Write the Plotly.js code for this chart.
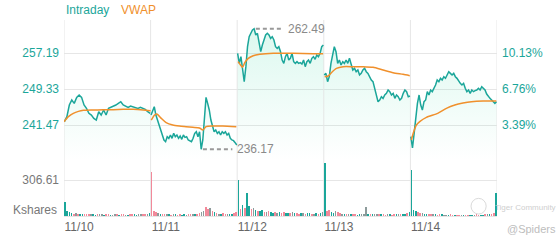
<!DOCTYPE html>
<html>
<head>
<meta charset="utf-8">
<script src="https://cdn.plot.ly/plotly-3.0.1.min.js"></script>
<style>
html,body{margin:0;padding:0;background:#fff;}
#chart{width:560px;height:240px;}
</style>
</head>
<body>
<div id="chart"></div>
<script>
// ---------- DATA ----------
const dayLabels = ['11/10','11/11','11/12','11/13','11/14'];

const p1110 = [242.20,243.29,245.84,246.93,246.20,247.51,248.02,247.51,245.84,245.11,244.02,243.65,242.93,242.56,244.38,243.65,244.75,243.65,245.11,245.33,245.47,245.84,246.20,246.56,245.84,245.62,245.33,245.62,245.47,245.33,245.11,245.33,245.11,244.89,244.38,244.02];
const p1111 = [243.65,244.75,245.47,243.65,242.56,241.47,240.38,239.29,238.20,237.83,238.92,238.56,239.29,238.56,239.65,238.92,239.29,238.56,239.07,238.34,239.29,238.78,238.92,238.20,238.05,237.83,238.56,239.65,240.01,238.92,240.01,236.17,238.20,244.02,247.51,246.20,244.75,242.56,241.11,240.01,240.38,239.65,240.01,239.29,240.01,239.65,240.01,239.29,239.65,238.56,238.20,238.05,237.61,237.10];
const p1112 = [257.12,254.93,256.39,253.48,250.93,254.21,258.57,260.76,261.49,262.21,262.49,261.12,261.49,259.30,257.48,258.94,260.03,261.12,261.49,261.12,260.39,260.76,260.03,258.57,258.21,258.57,257.48,255.66,254.93,256.39,257.12,255.66,256.03,257.12,255.30,254.93,255.30,254.93,255.08,254.79,255.66,254.21,255.30,255.66,254.93,256.03,256.39,255.81,256.75,256.39,257.12,258.57,258.94];
const p1113 = [252.39,252.75,250.93,252.02,254.93,257.12,258.57,257.48,254.93,255.66,254.57,255.30,254.93,255.66,254.93,256.03,254.57,253.48,253.84,253.11,253.48,252.39,252.75,253.48,253.84,253.11,252.75,252.02,251.30,250.93,249.48,248.02,246.56,246.93,247.66,247.29,248.02,248.38,249.11,248.75,248.02,248.38,247.29,248.02,247.66,246.93,247.29,248.38,249.11,248.75,247.66,247.80];
const p1114 = [238.92,236.45,239.65,243.29,246.20,248.02,245.84,244.75,246.56,246.93,248.75,248.02,249.11,248.75,249.48,250.20,251.30,250.93,251.66,251.30,252.02,251.66,252.39,253.11,252.75,252.39,252.75,252.02,251.66,250.93,250.57,250.20,250.57,249.48,248.75,249.11,248.38,249.11,248.75,248.97,249.11,249.48,249.11,249.84,249.48,249.11,248.24,247.66,247.29,246.93,246.56,246.20,246.56];

// VWAP: minutes into session (0-390) and value
const vwapT1110 = [0,20,42,65,87,132,177,222,267,312,357,390];
const vwap1110  = [242.20,243.29,244.02,244.45,244.67,244.75,244.82,244.82,244.89,244.89,244.75,244.60];
const vwapT1111 = [3,18,28,48,70,100,130,160,190,220,235,250,280,325,386];
const vwap1111  = [242.56,243.65,243.87,242.93,241.98,241.47,241.25,241.11,240.96,240.82,240.38,241.11,241.25,241.25,241.11];
const vwapT1112 = [4,15,24,34,50,72,102,162,252,342,387];
const vwap1112  = [255.30,254.57,254.06,255.08,256.03,256.61,256.90,257.12,257.12,257.05,257.05];
const vwapT1113 = [4,20,34,57,87,132,177,222,267,312,357,387];
const vwap1113  = [252.02,252.17,252.90,253.84,254.21,254.21,254.21,254.06,253.48,252.90,252.53,252.24];
const vwapT1114 = [4,15,27,42,72,123,162,200,237,275,327,387];
const vwap1114  = [238.20,240.01,241.47,242.20,243.14,244.02,245.11,245.84,246.27,246.56,246.71,246.71];

// Volume (Kshares) per bucket and direction (u = up, d = down, n = flat)
const vol1110 = [122,45,30,25,20,22,18,15,20,17,15,14,18,16,12,14,15,13,12,14,16,12,11,13,15,12,14,13,11,12,14,16,13,12,15,14,18,16,20,28];
const vol1111 = [375,40,30,22,18,15,20,16,14,12,15,13,12,14,11,13,12,15,14,13,16,20,25,30,45,80,60,70,40,30,25,20,18,22,16,15,18,20,25,35];
const vol1112 = [306.61,60,90,70,193,85,60,70,50,45,40,55,35,30,40,35,28,30,25,32,28,30,25,22,28,30,25,22,20,25,22,20,24,22,20,18,22,20,25,30];
const vol1113 = [451,40,50,35,25,45,30,25,20,18,20,15,14,16,13,12,15,14,13,77,15,14,20,18,16,14,13,15,12,14,13,12,15,14,13,16,18,20,22,30];
const vol1114 = [392,55,40,30,25,22,20,18,16,15,14,13,12,14,13,12,11,12,13,11,12,10,11,12,10,11,12,11,10,12,13,12,11,12,14,13,15,18,25,196];
const dir1110 = 'uuuudnduudddnuudnnuddunnduddnudduunnddnu';
const dir1111 = 'dddnuddnudnudduunddnuddnnddndudnuddnuudd';
const dir1112 = 'ududuudnuduudnduudnudduudnuddunduudnudun';
const dir1113 = 'udduunddnudnudduunnnudunnduddnuddunduudu';
const dir1114 = 'uuuddnuuddnuddunnuddu ddnudduundduudnuddu'.replace(' ','');

const priceTicks = [241.47, 249.33, 257.19];
const pctTicks = [3.39, 6.76, 10.13];
const volTicks = [306.61];
const maxLabel = 262.49, minLabel = 236.17;

// ---------- STYLE ----------
const TEAL = '#1ba69a', ORANGE = '#f0902c', PINK = '#f2899a', GRAYBAR = '#8d9b9b';
const GRID = '#e6e6e6';
const FONT = 'Arial, "Liberation Sans", sans-serif';
const priceRange = [233.83, 264.40];

const prices = [p1110, p1111, p1112, p1113, p1114];
const vwapTs = [vwapT1110, vwapT1111, vwapT1112, vwapT1113, vwapT1114];
const vwaps = [vwap1110, vwap1111, vwap1112, vwap1113, vwap1114];
const vols = [vol1110, vol1111, vol1112, vol1113, vol1114];
const dirs = [dir1110, dir1111, dir1112, dir1113, dir1114];

const px = (d, i, n) => d + 0.005 + i / (n - 1) * 0.99;

const traces = [];
prices.forEach((arr, d) => {
  traces.push({
    type: 'scatter', mode: 'lines', xaxis: 'x', yaxis: 'y',
    x: arr.map((_, i) => px(d, i, arr.length)), y: arr,
    line: {color: TEAL, width: 1.5},
    fill: 'tozeroy',
    fillgradient: {type: 'vertical', start: priceRange[0], stop: priceRange[1],
      colorscale: [[0, 'rgba(70,220,170,0.0)'], [0.4, 'rgba(70,220,170,0.08)'], [1, 'rgba(70,220,170,0.2)']]},
    hoverinfo: 'skip', showlegend: false
  });
});
vwaps.forEach((arr, d) => {
  traces.push({
    type: 'scatter', mode: 'lines', xaxis: 'x', yaxis: 'y',
    x: vwapTs[d].map(t => d + t / 390), y: arr,
    line: {color: ORANGE, width: 1.5, shape: 'spline', smoothing: 0.6},
    hoverinfo: 'skip', showlegend: false
  });
});
// invisible trace for right percent axis
traces.push({type: 'scatter', mode: 'lines', xaxis: 'x', yaxis: 'y2',
  x: [0, 5], y: priceRange, line: {width: 0}, opacity: 0, hoverinfo: 'skip', showlegend: false});

// volume bars
const bx = [], by = [], bc = [];
vols.forEach((arr, d) => {
  arr.forEach((v, i) => {
    bx.push(d + (i + 0.5) / arr.length);
    by.push(v);
    const c = dirs[d][i];
    bc.push(c === 'u' ? TEAL : (c === 'd' ? PINK : GRAYBAR));
  });
});
traces.push({type: 'bar', xaxis: 'x', yaxis: 'y3', x: bx, y: by,
  width: 0.7 / 40, marker: {color: bc, line: {width: 0}}, hoverinfo: 'skip', showlegend: false});

// max / min markers
let maxD = 0, maxI = 0, minD = 0, minI = 0;
prices.forEach((arr, d) => arr.forEach((v, i) => {
  if (v > prices[maxD][maxI]) { maxD = d; maxI = i; }
  if (v < prices[minD][minI]) { minD = d; minI = i; }
}));
const xMax = px(maxD, maxI, prices[maxD].length);
const xMin = px(minD, minI, prices[minD].length);

const shapes = [];
for (let i = 0; i <= 5; i++) {
  shapes.push({type: 'line', xref: 'x', yref: 'paper', x0: i, x1: i, y0: 0, y1: 1,
    line: {color: GRID, width: 1}, layer: 'below'});
}
shapes.push({type: 'line', xref: 'x', yref: 'y', x0: xMax + 0.02, x1: xMax + 0.34, y0: maxLabel, y1: maxLabel,
  line: {color: '#999', width: 2, dash: '4px,3px'}});
shapes.push({type: 'line', xref: 'x', yref: 'y', x0: xMin + 0.02, x1: xMin + 0.36, y0: minLabel, y1: minLabel,
  line: {color: '#999', width: 2, dash: '4px,3px'}});
// watermark logo circle
shapes.push({type: 'circle', xref: 'paper', yref: 'paper', x0: 0.94, x1: 0.975, y0: 0.01, y1: 0.09,
  line: {color: '#dadada', width: 1}});

const annotations = [
  {xref: 'paper', yref: 'paper', x: 0, y: 1, xanchor: 'left', yanchor: 'bottom', yshift: 1,
   text: 'Intraday', showarrow: false, font: {family: FONT, size: 12, color: TEAL}},
  {xref: 'paper', yref: 'paper', x: 0.127, y: 1, xanchor: 'left', yanchor: 'bottom', yshift: 1,
   text: 'VWAP', showarrow: false, font: {family: FONT, size: 12, color: ORANGE}},
  {xref: 'x', yref: 'y', x: xMax + 0.37, y: maxLabel, xanchor: 'left', yanchor: 'middle',
   text: maxLabel.toFixed(2), showarrow: false, font: {family: FONT, size: 12, color: '#8a8a8a'}},
  {xref: 'x', yref: 'y', x: xMin + 0.39, y: minLabel, xanchor: 'left', yanchor: 'middle',
   text: minLabel.toFixed(2), showarrow: false, font: {family: FONT, size: 12, color: '#8a8a8a'}},
  {xref: 'paper', yref: 'paper', x: 0, y: 0.03, xanchor: 'right', yanchor: 'middle', xshift: -5,
   text: 'Kshares', showarrow: false, font: {family: FONT, size: 12, color: '#777'}},
  {xref: 'paper', yref: 'paper', x: 0.99, y: 0.045, xanchor: 'left', yanchor: 'middle',
   text: 'Tiger Community', showarrow: false, font: {family: FONT, size: 8, color: '#cfcfcf'}},
  {xref: 'paper', yref: 'paper', x: 1.018, y: -0.066, xanchor: 'left', yanchor: 'middle',
   text: '@Spiders', showarrow: false, font: {family: FONT, size: 11, color: '#bdbdbd'}}
];

const layout = {
  width: 560, height: 240,
  margin: {l: 64, r: 63, t: 20, b: 24, pad: 0},
  paper_bgcolor: '#fff', plot_bgcolor: 'rgba(0,0,0,0)',
  font: {family: FONT, size: 12, color: '#666'},
  showlegend: false, bargap: 0,
  xaxis: {range: [0, 5], anchor: 'y3', showgrid: false, zeroline: false,
    showline: true, linecolor: GRID, linewidth: 1, ticks: '',
    tickvals: dayLabels.map((_, i) => i + 0.175), ticktext: dayLabels,
    tickfont: {family: FONT, size: 12, color: '#666'}},
  yaxis: {domain: [0.2857, 1], range: priceRange, anchor: 'x', showgrid: true, gridcolor: GRID,
    zeroline: false, showline: false, ticks: '', ticklabelstandoff: 4,
    tickvals: priceTicks, ticktext: priceTicks.map(v => v.toFixed(2)),
    tickfont: {family: FONT, size: 12, color: TEAL}},
  yaxis2: {overlaying: 'y', side: 'right', anchor: 'x', range: priceRange, showgrid: false,
    zeroline: false, showline: false, ticks: '', ticklabelstandoff: 4,
    tickvals: priceTicks, ticktext: pctTicks.map(v => v.toFixed(2) + '%'),
    tickfont: {family: FONT, size: 12, color: TEAL}},
  yaxis3: {domain: [0, 0.2857], range: [0, 477], anchor: 'x', showgrid: true, gridcolor: GRID,
    zeroline: false, showline: false, ticks: '', ticklabelstandoff: 4,
    tickvals: volTicks, ticktext: volTicks.map(v => v.toFixed(2)),
    tickfont: {family: FONT, size: 12, color: '#777'}},
  shapes: shapes,
  annotations: annotations
};

Plotly.newPlot('chart', traces, layout, {staticPlot: true, displayModeBar: false});
</script>
</body>
</html>
